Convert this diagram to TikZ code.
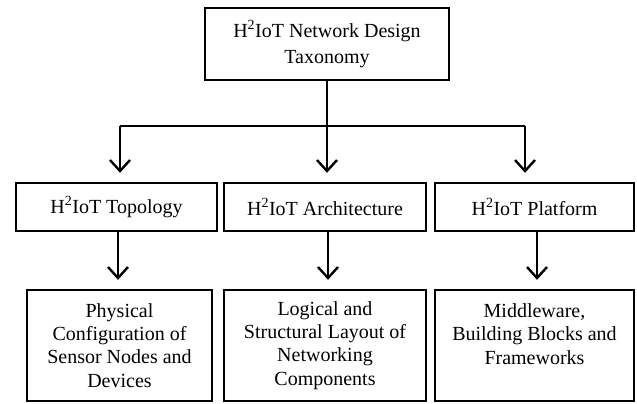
\documentclass[tikz,border=0pt]{standalone}
\usepackage{fontspec}
\setmainfont{Liberation Serif}
\usetikzlibrary{arrows.meta}
\begin{document}
\begin{tikzpicture}[x=1pt,y=-1pt,
  box/.style={draw, line width=2.4pt, align=center, inner sep=0pt,
    font=\fontsize{20}{23.3}\selectfont},
  link/.style={line width=2.4pt},
  arr/.style={line width=2.4pt, -{Straight Barb[length=11pt,width=20pt]}, shorten >=9pt}]
\useasboundingbox (0,0) rectangle (637,404);
% top
\node[box, minimum width=244pt, minimum height=72pt] (top) at (327,44)
  {H\textsuperscript{2}IoT Network Design\\[3pt]Taxonomy};
% middle row
\node[box, minimum width=201pt, minimum height=48pt] (topo) at (116.5,207) {H\textsuperscript{2}IoT Topology};
\node[box, minimum width=202pt, minimum height=48pt] (arch) at (325,207) {H\textsuperscript{2}IoT Architecture};
\node[box, minimum width=199pt, minimum height=48pt] (plat) at (534.5,207) {H\textsuperscript{2}IoT Platform};
% bottom row
\node[box, minimum width=185pt, minimum height=111pt] (phys) at (119.5,345.5)
  {Physical\\Configuration of\\Sensor Nodes and\\Devices};
\node[box, minimum width=202pt, minimum height=111pt] (logi) at (325,345.5)
  {Logical and\\Structural Layout of\\Networking\\Components};
\node[box, minimum width=199pt, minimum height=111pt] (midw) at (534.5,345.5)
  {Middleware,\\Building Blocks and\\Frameworks\\\mbox{}};
% connectors
\coordinate (jl) at (120,126);
\coordinate (jr) at (525,126);
\draw[link] (jl) -- (jr);
\draw[arr] (top.south) -- (top.south |- arch.north);
\draw[arr] (jl) -- (jl |- topo.north);
\draw[arr] (jr) -- (jr |- plat.north);
\draw[arr] ([xshift=1.5pt]topo.south) -- ([xshift=1.5pt]topo.south |- phys.north);
\draw[arr] ([xshift=3pt]arch.south) -- ([xshift=3pt]arch.south |- logi.north);
\draw[arr] ([xshift=2.5pt]plat.south) -- ([xshift=2.5pt]plat.south |- midw.north);
\end{tikzpicture}
\end{document}
